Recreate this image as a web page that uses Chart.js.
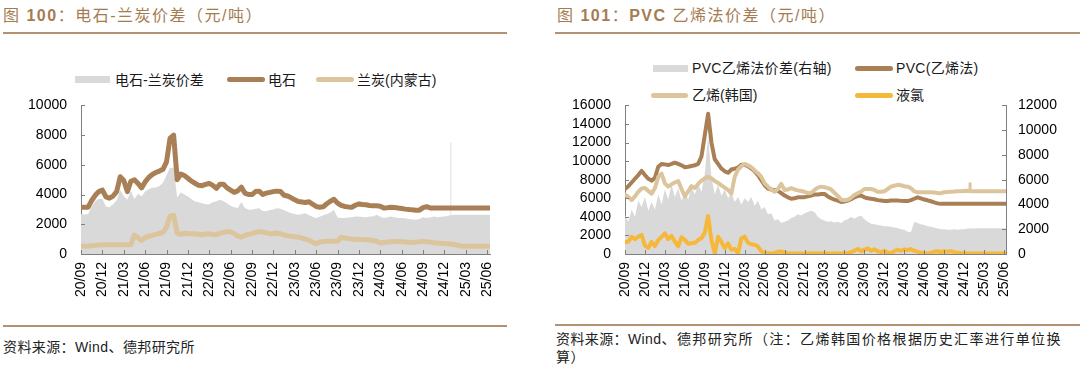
<!DOCTYPE html>
<html lang="zh-CN">
<head>
<meta charset="utf-8">
<script src="https://cdn.jsdelivr.net/npm/chart.js@4.4.1/dist/chart.umd.min.js"></script>
<style>
  body { margin: 0; width: 1080px; height: 380px; background: #fff; position: relative; overflow: hidden;
         font-family: 'Liberation Sans', Arial, 'Noto Sans CJK SC', sans-serif; }
  .abs { position: absolute; white-space: nowrap; }
  .title { top: 5px; font-size: 16px; line-height: 22px; color: #a57c52; letter-spacing: 1.5px; }
  .rule { height: 2px; background: #b39273; }
  .lg { font-size: 14px; line-height: 20px; color: #1a1a1a; }
  .box { height: 7px; background: #d9d9d9; }
  .ln { height: 5px; border-radius: 2.5px; }
  .src { font-size: 14px; line-height: 18px; color: #222; letter-spacing: 0.4px; }
  canvas { position: absolute; }
</style>
</head>
<body>

<!-- panneau gauche -->
<div class="abs title" style="left:3px;">图 <b>100</b>：电石-兰炭价差（元/吨）</div>
<div class="abs rule" style="left:3px; top:32px; width:504px;"></div>

<div class="abs box" style="left:75px; top:76px; width:35px;"></div>
<div class="abs lg" style="left:115px; top:70px;">电石-兰炭价差</div>
<div class="abs ln" style="left:227px; top:77px; width:38px; background:#a97f55;"></div>
<div class="abs lg" style="left:268px; top:70px;">电石</div>
<div class="abs ln" style="left:316px; top:77px; width:38px; background:#dcc59c;"></div>
<div class="abs lg" style="left:357px; top:70px;">兰炭(内蒙古)</div>

<canvas id="leftChart" width="540" height="227" style="left:0; top:83px;"></canvas>

<div class="abs rule" style="left:3px; top:325px; width:504px;"></div>
<div class="abs src" style="left:3px; top:338px;">资料来源：Wind、德邦研究所</div>

<!-- panneau droit -->
<div class="abs title" style="left:557px;">图 <b>101</b>：<b>PVC</b> 乙烯法价差（元/吨）</div>
<div class="abs rule" style="left:555px; top:32px; width:525px;"></div>

<div class="abs box" style="left:653px; top:65px; width:35px;"></div>
<div class="abs lg" style="left:692px; top:58px; letter-spacing:0.3px;">PVC乙烯法价差(右轴)</div>
<div class="abs ln" style="left:855px; top:66px; width:38px; background:#a97f55;"></div>
<div class="abs lg" style="left:896px; top:58px; letter-spacing:0.3px;">PVC(乙烯法)</div>
<div class="abs ln" style="left:651px; top:93px; width:37px; background:#dcc59c;"></div>
<div class="abs lg" style="left:692px; top:85px;">乙烯(韩国)</div>
<div class="abs ln" style="left:855px; top:93px; width:38px; background:#f6b83b;"></div>
<div class="abs lg" style="left:896px; top:85px;">液氯</div>

<canvas id="rightChart" width="540" height="227" style="left:540px; top:83px;"></canvas>

<div class="abs rule" style="left:555px; top:324px; width:525px;"></div>
<div class="abs src" style="left:556px; top:330px;">资料来源：Wind<span style="letter-spacing:1.4px;">、德邦研究所（注：乙烯韩国价格根据历史汇率进行单位换</span></div>
<div class="abs src" style="left:556px; top:348px;">算）</div>

<script>
// Axe des temps : demi-mois depuis 2020/09 (0 = 20/09)
const halfMonths = Array.from({ length: 116 }, (_, i) => i / 2);
const tickLabels = ['20/09', '20/12', '21/03', '21/06', '21/09', '21/12', '22/03', '22/06', '22/09', '22/12',
                    '23/03', '23/06', '23/09', '23/12', '24/03', '24/06', '24/09', '24/12', '25/03', '25/06'];

// Figure 100 : carbure (电石), semi-coke (兰炭), écart
const carbide = [
    3150, 3150, 3150, 3600, 3950, 4200, 4300, 3850, 3760, 3900,
    4200, 5200, 4950, 4200, 4900, 5000, 4750, 4450, 4850, 5150,
    5350, 5480, 5580, 5700, 6200, 7800, 8000, 5000, 5380, 5280,
    5100, 4900, 4760, 4620, 4600, 4680, 4750, 4620, 4420, 4700,
    4700, 4450, 4300, 4150, 4250, 4500, 4100, 4000, 4000, 4200,
    4230, 4000, 4100, 4150, 4200, 4230, 4200, 3950, 3900, 3780,
    3650, 3530, 3500, 3470, 3520, 3350, 3200, 3150, 3180, 3380,
    3550, 3680, 3420, 3280, 3200, 3170, 3150, 3280, 3370, 3330,
    3310, 3260, 3240, 3240, 3220, 3100, 3120, 3150, 3130, 3090,
    3060, 3020, 3000, 2970, 2950, 2950, 3120, 3180, 3100, 3090,
    3090, 3090, 3090, 3090, 3090, 3090, 3090, 3090, 3090, 3090, 3090, 3090, 3090, 3090, 3090, 3090
];
const carbideSpread = [
    2700, 2650, 2700, 3200, 3550, 3700, 3700, 3200, 3150, 3350,
    3600, 4300, 3900, 3650, 4250, 3700, 4050, 3870, 4200, 4350,
    4450, 4480, 4580, 4800, 5300, 5800, 5800, 3800, 4150, 4000,
    3870, 3700, 3530, 3480, 3420, 3350, 3350, 3480, 3550, 3650,
    3550, 3400, 3250, 3150, 3100, 3500, 3090, 3000, 2980, 3050,
    3080, 2900, 2880, 2960, 3000, 3080, 3050, 2950, 2850, 2750,
    2700, 2640, 2700, 2750, 2600, 2500, 2430, 2500, 2600, 2700,
    2800, 2980, 2450, 2420, 2420, 2450, 2480, 2520, 2530, 2490,
    2480, 2520, 2530, 2640, 2500, 2420, 2480, 2530, 2470, 2420,
    2420, 2400, 2350, 2320, 2300, 2350, 2480, 2420, 2450, 2530,
    2480, 2500, 2530, 2580, 2620, 2640, 2640, 2640, 2640, 2640, 2640, 2640, 2640, 2640, 2640, 2640
];
const semiCoke = [
    520, 530, 540, 560, 580, 600, 610, 620, 620, 620,
    625, 625, 625, 630, 640, 1280, 1100, 900, 1100, 1190,
    1250, 1320, 1380, 1450, 1800, 2550, 2600, 1400, 1320, 1400,
    1370, 1360, 1365, 1330, 1300, 1340, 1360, 1320, 1300, 1390,
    1450, 1520, 1480, 1380, 1200, 1140, 1250, 1320, 1370, 1450,
    1520, 1480, 1420, 1370, 1380, 1410, 1370, 1280, 1220, 1190,
    1160, 1140, 1070, 1000, 920, 800, 700, 790, 840, 850,
    850, 850, 860, 1130, 1080, 1040, 1000, 990, 980, 970,
    960, 940, 920, 850, 740, 770, 800, 820, 840, 850,
    830, 810, 790, 780, 800, 820, 850, 830, 800, 760,
    740, 720, 710, 690, 660, 625, 570, 515, 515, 515, 515, 515, 515, 515, 515, 515
];
const carbideSpreadSpike = [{ x: 51.9, y: 2640 }, { x: 51.9, y: 7500 }];

// Figure 101 : PVC voie éthylène, éthylène Corée, chlore liquide, écart (axe droit)
const pvcEthylene = [
    7000, 7300, 7700, 8100, 8500, 8950, 8500, 8100, 7900, 8200,
    9400, 9700, 9650, 9580, 9700, 9830, 9700, 9550, 9350, 9400,
    9480, 9550, 9700, 10500, 12800, 15100, 12000, 10200, 9700, 9200,
    8900, 8750, 9100, 9200, 9300, 9600, 9600, 9450, 9200, 8900,
    8500, 7950, 7400, 7050, 6950, 6880, 6800, 6550, 6300, 6100,
    5950, 6000, 6100, 6120, 6120, 6200, 6300, 6400, 6400, 6450,
    6470, 6200, 6000, 5850, 5750, 5600, 5650, 5750, 5900, 6100,
    6250, 6300, 6100, 6000, 5950, 5900, 5800, 5750, 5700, 5700,
    5750, 5770, 5760, 5720, 5700, 5700, 5800, 5950, 6100, 5980,
    5860, 5780, 5680, 5560, 5450, 5400,
    5400, 5400, 5400, 5400, 5400, 5400, 5400, 5400, 5400, 5400,
    5400, 5400, 5400, 5400, 5400, 5400, 5400, 5400, 5400, 5400
];
const ethyleneKorea = [
    6400, 6150, 5800, 6200, 6700, 7050, 7100, 6800, 6500, 7100,
    8300, 8650, 7600, 7250, 7500, 7700, 7850, 7000, 6200, 6750,
    7300, 7100, 7550, 7900, 8150, 8300, 8150, 7850, 7650, 7400,
    7150, 6900, 6500, 8300, 9100, 9450, 9700, 9550, 9350, 9000,
    8700, 8300, 7600, 7250, 6950, 6700, 7000, 7550, 6900, 6950,
    7100, 6950, 6850, 6780, 6700, 6550, 6600, 6900, 7150, 7250,
    7200, 7100, 6950, 6600, 6250, 5850, 5780, 5850, 6050, 6350,
    6550, 6700, 7000, 7000, 7000, 6900, 6700, 6700, 6750, 7000,
    7250, 7350, 7450, 7400, 7300, 7250, 7100, 6750, 6650, 6650,
    6650, 6650, 6650, 6620, 6580, 6550, 6650, 6680, 6700, 6720,
    6750, 6750, 6780, 6800, 6750, 6750, 6750, 6750, 6750, 6750, 6750, 6750, 6750, 6750, 6750, 6750
];
const pvcSpread = [
    3100, 2600, 3600, 3000, 4300, 3800, 4600, 3500, 4200, 3600,
    4800, 4000, 5200, 4400, 5600, 4600, 5300, 4300, 5000, 4400,
    5400, 4800, 5700, 5000, 6500, 9600, 6200, 4800, 5600, 4700,
    5200, 4500, 5000, 4200, 4600, 4000, 4500, 4200, 4600, 3900,
    4300, 3600, 3800, 3200, 3300, 2700, 2800, 2500, 2600, 2700,
    2900, 3000, 3200, 3100, 3300, 3400, 3500, 3400, 3000, 2800,
    2700, 2600, 2650, 2550, 2600, 2500, 2700, 2800, 3000, 2850,
    3000, 3100, 2800, 2600, 2450, 2400, 2350, 2300, 2250, 2250,
    2200, 2150, 2100, 2000, 1950, 1800, 1750, 2600, 2500, 2400,
    2350, 2250, 2200, 2150, 2050, 2000, 2000, 1950, 1950, 2000,
    1950, 2000, 2000, 2050, 2050, 2050, 2070, 2070, 2070, 2070, 2070, 2070, 2070, 2070, 2070, 2070
];
const liquidChlorine = [
    1250, 1340, 1850, 1600, 1850, 2050, 900, 650, 1300, 850,
    1500, 1850, 2230, 1600, 1950, 1350, 820, 1800, 1520, 1100,
    1150, 1200, 1500, 1700, 2300, 4100, 1500, 50, 1850, 1300,
    650, 1150, 450, 550, 100, 1700, 1870, 1200, 1050, 990,
    800, 300, 100, 80, 60, 100, 250, 280, 150, 80,
    60, 50, 50, 60, 50, 60, 80, 60, 50, 60,
    80, 60, 50, 60, 80, 60, 80, 120, 200, 350,
    550, 300, 450, 600, 350, 500, 300, 200, 350, 150,
    100, 300, 450, 350, 500, 400, 550, 350, 250, 150,
    80, 60, 100, 250, 300, 200, 300, 250, 300, 200,
    150, 100, 80, 60, 50, 60, 50, 60, 50, 60, 50, 60, 50, 60, 50, 60
];
const ethyleneSpike = [{ x: 51.9, y: 6750 }, { x: 51.9, y: 7700 }];

const COLORS = {
    brown: '#a97f55',
    tan: '#dcc59c',
    gray: '#d9d9d9',
    orange: '#f6b83b',
    axis: '#808080'
};
const tickFont = { family: "'Liberation Sans', Arial, sans-serif", size: 14 };

const pts = vals => vals.map((v, i) => ({ x: halfMonths[i], y: v }));

// petites graduations tournées vers l'intérieur, comme dans Excel
const innerTicks = {
    id: 'innerTicks',
    afterDraw(chart) {
        const ctx = chart.ctx;
        const a = chart.chartArea;
        ctx.save();
        ctx.strokeStyle = COLORS.axis;
        ctx.lineWidth = 1;
        Object.values(chart.scales).forEach(s => {
            s.ticks.forEach(t => {
                const p = Math.round(s.getPixelForValue(t.value)) + 0.5;
                ctx.beginPath();
                if (s.axis === 'x') {
                    ctx.moveTo(p, a.bottom);
                    ctx.lineTo(p, a.bottom - 4);
                } else if (s.position === 'left') {
                    ctx.moveTo(a.left, p);
                    ctx.lineTo(a.left + 4, p);
                } else {
                    ctx.moveTo(a.right, p);
                    ctx.lineTo(a.right - 4, p);
                }
                ctx.stroke();
            });
        });
        ctx.restore();
    }
};

function lineSet(label, data, color, yAxisID, order, width = 4) {
    return {
        label, data: pts(data), yAxisID, order,
        borderColor: color, borderWidth: width, pointRadius: 0,
        tension: 0, borderJoinStyle: 'round', borderCapStyle: 'round', fill: false
    };
}

function areaSet(label, data, yAxisID, order) {
    return {
        label, data: pts(data), yAxisID, order,
        borderWidth: 0, borderColor: COLORS.gray, backgroundColor: COLORS.gray,
        pointRadius: 0, tension: 0, fill: 'origin'
    };
}

function spikeSet(data, color, width, yAxisID, order) {
    return { data, yAxisID, order, borderColor: color, borderWidth: width, pointRadius: 0, fill: false };
}

function xAxis(max) {
    return {
        type: 'linear', min: 0, max, offset: false,
        grid: { display: false, drawTicks: false },
        border: { display: true, color: COLORS.axis },
        afterBuildTicks: s => { s.ticks = tickLabels.map((_, i) => ({ value: i * 3 })); },
        ticks: {
            autoSkip: false, minRotation: 90, maxRotation: 90, padding: 8,
            font: tickFont, color: '#000',
            callback: v => tickLabels[Math.round(v / 3)]
        },
        afterFit: s => { s.height = 56; }
    };
}

function yAxis(max, position, width, padding) {
    return {
        type: 'linear', min: 0, max, position,
        grid: { display: false, drawTicks: false },
        border: { display: true, color: COLORS.axis },
        ticks: { stepSize: 2000, autoSkip: false, padding, font: tickFont, color: '#000', callback: v => String(v) },
        afterFit: s => { s.width = width; }
    };
}

const baseOptions = (padding, scales) => ({
    responsive: false,
    animation: false,
    layout: { padding },
    plugins: { legend: { display: false }, tooltip: { enabled: false } },
    scales
});

new Chart(document.getElementById('leftChart'), {
    type: 'line',
    data: {
        datasets: [
            lineSet('电石', carbide, COLORS.brown, 'y', 1, 5),
            lineSet('兰炭(内蒙古)', semiCoke, COLORS.tan, 'y', 2, 5),
            spikeSet(carbideSpreadSpike, '#e2e2e2', 1, 'y', 3),
            areaSet('电石-兰炭价差', carbideSpread, 'y', 4)
        ]
    },
    options: baseOptions({ top: 10, right: 50, left: 0, bottom: 0 }, {
        x: xAxis(57.4),
        y: yAxis(10000, 'left', 81, 14)
    }),
    plugins: [innerTicks]
});

new Chart(document.getElementById('rightChart'), {
    type: 'line',
    data: {
        datasets: [
            lineSet('液氯', liquidChlorine, COLORS.orange, 'y', 1),
            lineSet('乙烯(韩国)', ethyleneKorea, COLORS.tan, 'y', 2),
            spikeSet(ethyleneSpike, COLORS.tan, 3, 'y', 2),
            lineSet('PVC(乙烯法)', pvcEthylene, COLORS.brown, 'y', 3),
            areaSet('PVC乙烯法价差(右轴)', pvcSpread, 'y1', 4)
        ]
    },
    options: baseOptions({ top: 8.5, right: 0, left: 0, bottom: 0 }, {
        x: xAxis(57.3),
        y: yAxis(16000, 'left', 85, 14),
        y1: yAxis(12000, 'right', 74, 12)
    }),
    plugins: [innerTicks]
});
</script>
</body>
</html>
